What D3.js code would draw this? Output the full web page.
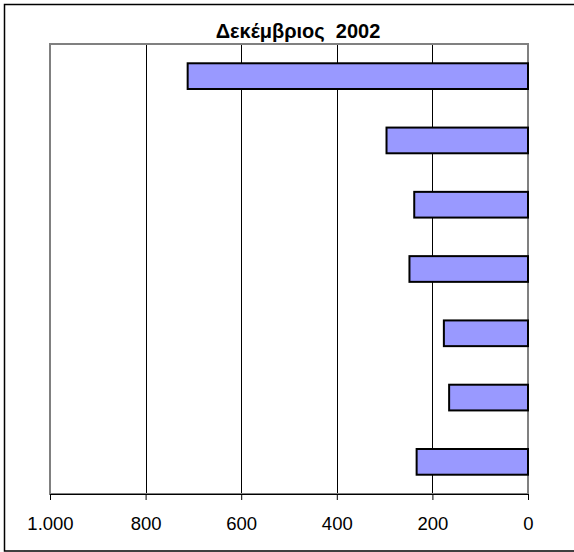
<!DOCTYPE html>
<html><head><meta charset="utf-8">
<script src="https://cdn.jsdelivr.net/npm/d3@7"></script>
<style>body{margin:0;background:#fff}svg{display:block}</style>
</head><body>
<script>
const titleText = "Δεκέμβριος\u00a0\u00a02002";
const categories = ["1","2","3","4","5","6","7"];
const values = [712, 296, 238, 248, 176, 165, 233];
const tickValues = [0, 200, 400, 600, 800, 1000];
const tickLabels = ["0", "200", "400", "600", "800", "1.000"];

const W = 574, H = 552;
const svg = d3.select("body").append("svg").attr("width", W).attr("height", H);
svg.append("rect").attr("width", W).attr("height", H).attr("fill", "#fff");
svg.append("rect").attr("x", 4.5).attr("y", 4.5).attr("width", 620).attr("height", 546.5)
  .attr("fill", "none").attr("stroke", "#000").attr("stroke-width", 1.5);

const L = 50, R = 528, T = 44, B = 494;
const x = d3.scaleLinear().domain([0, 1000]).range([R, L]);
const y = d3.scaleBand().domain(categories).range([T, B]).paddingInner(0.6).paddingOuter(0.3);

// gridlines
svg.append("g").selectAll("line").data(tickValues.filter(v => v > 0 && v < 1000)).join("line")
  .attr("x1", d => Math.round(x(d)) + 0.5).attr("x2", d => Math.round(x(d)) + 0.5)
  .attr("y1", T).attr("y2", B).attr("stroke", "#000").attr("stroke-width", 1);

// plot area border (gray)
svg.append("rect").attr("x", L).attr("y", T).attr("width", R - L).attr("height", B - T)
  .attr("fill", "none").attr("stroke", "#808080").attr("stroke-width", 2);

// bars
svg.append("g").selectAll("rect").data(values).join("rect")
  .attr("x", d => x(d)).attr("y", (d, i) => y(categories[i]))
  .attr("width", d => x(0) - x(d)).attr("height", y.bandwidth())
  .attr("fill", "#9999FF").attr("stroke", "#000").attr("stroke-width", 2);

// axis
const axis = d3.axisBottom(x).tickValues(tickValues)
  .tickFormat((d, i) => tickLabels[tickValues.indexOf(d)]).tickSizeInner(6).tickSizeOuter(0).tickPadding(17);
const ax = svg.append("g").attr("transform", `translate(0,${B})`).call(axis);
ax.select(".domain").attr("stroke", "#000").attr("stroke-width", 1);
ax.selectAll(".tick line").attr("stroke", "#000");
ax.selectAll("text").attr("font-family", "Liberation Sans, Arial, sans-serif")
  .attr("font-size", 18.5).attr("fill", "#000");

// title
svg.append("text").attr("x", 298).attr("y", 38).attr("text-anchor", "middle")
  .attr("font-family", "Liberation Sans, Arial, sans-serif").attr("font-weight", "bold")
  .attr("font-size", 20).text(titleText);
</script>
</body></html>
